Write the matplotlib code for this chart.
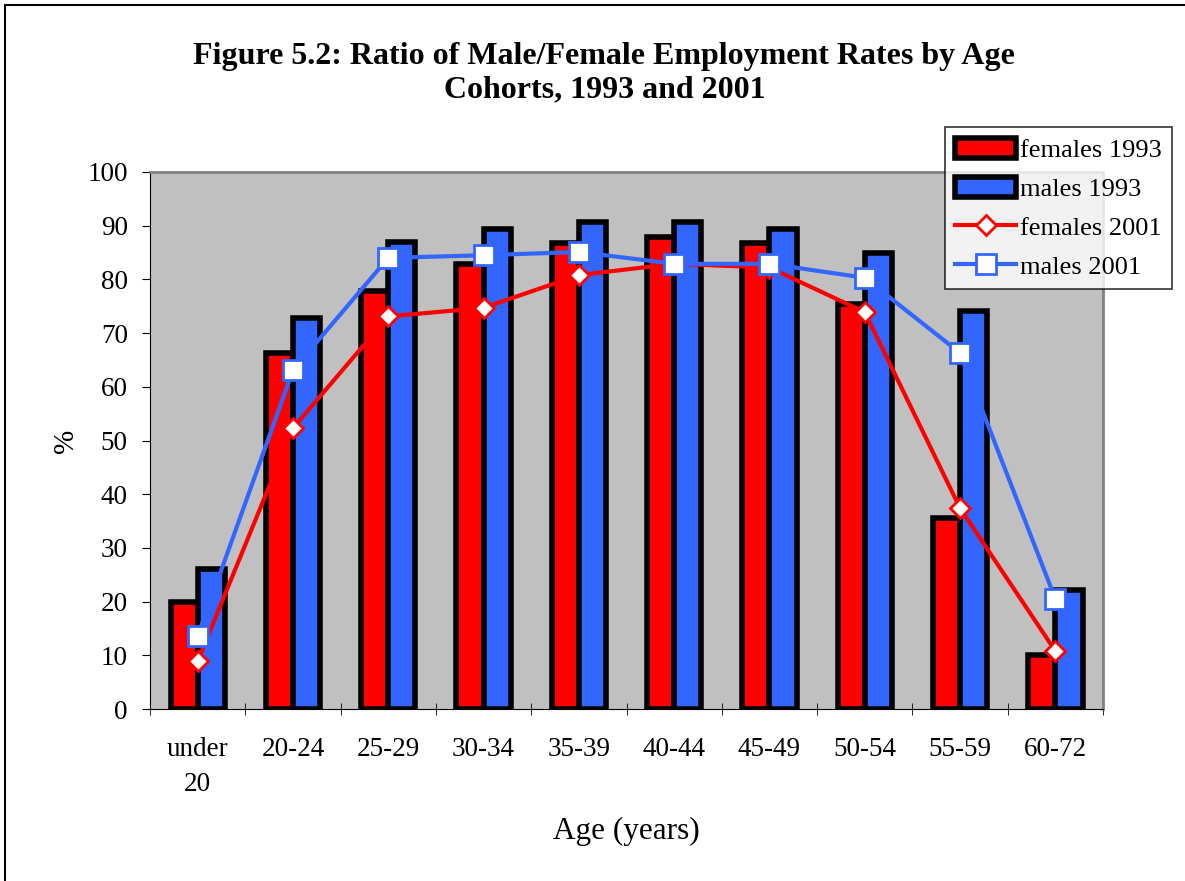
import numpy as np
import matplotlib
matplotlib.use('Agg')
import matplotlib.pyplot as plt
from matplotlib.patches import Rectangle

# age cohorts
ages = ['under\n20', '20-24', '25-29', '30-34', '35-39', '40-44', '45-49', '50-54', '55-59', '60-72']

# employment rates (%)
females_1993 = [20.0, 66.3, 77.8, 82.8, 86.7, 87.9, 86.7, 75.4, 35.6, 10.0]
males_1993 = [26.0, 72.8, 87.0, 89.4, 90.6, 90.6, 89.4, 84.9, 74.1, 22.2]
females_2001 = [8.9, 52.3, 73.1, 74.7, 80.8, 82.9, 82.2, 73.9, 37.4, 10.8]
males_2001 = [13.6, 63.1, 84.0, 84.5, 85.1, 82.9, 82.9, 80.3, 66.3, 20.5]

RED = '#FF0000'
BLUE = '#3366FF'

plt.rcParams['font.family'] = ['Liberation Serif', 'DejaVu Serif']

fig = plt.figure(figsize=(11.85, 8.81), dpi=100)
ax = fig.add_axes([0.1266, 0.1952, 0.8042, 0.6096])
ax.set_facecolor('#C0C0C0')

x = np.arange(len(ages))
w = 0.285
b1 = ax.bar(x - w / 2, females_1993, w, color=RED, edgecolor='black', linewidth=4,
            label='females 1993', zorder=2)
b2 = ax.bar(x + w / 2, males_1993, w, color=BLUE, edgecolor='black', linewidth=4,
            label='males 1993', zorder=2)
l1, = ax.plot(x, females_2001, color=RED, lw=3, marker='D', ms=10, mfc='white',
              mec=RED, mew=2, label='females 2001', zorder=3)
l2, = ax.plot(x, males_2001, color=BLUE, lw=3, marker='s', ms=15, mfc='white',
              mec=BLUE, mew=2, label='males 2001', zorder=4)

ax.set_xlim(-0.5, len(ages) - 0.5)
ax.set_ylim(0, 100)
ax.set_yticks(range(0, 101, 10))
ax.set_xticks(x)
ax.set_xticklabels(ages, fontsize=19.5, linespacing=1.55)
ax.set_xticks(np.arange(-0.5, len(ages), 1), minor=True)
ax.tick_params(axis='x', which='major', length=0, pad=20)
ax.tick_params(axis='x', which='minor', length=8, direction='inout', color='black')
ax.tick_params(axis='y', labelsize=19.5, length=6, direction='out', pad=10)

for s in ['top', 'right']:
    ax.spines[s].set_color('#808080')
    ax.spines[s].set_linewidth(2)
ax.spines['left'].set_color('black')
ax.spines['bottom'].set_color('black')

ax.set_ylabel('%', fontsize=21, labelpad=6)
ax.set_xlabel('Age (years)', fontsize=22.5, labelpad=14)

fig.suptitle('Figure 5.2: Ratio of Male/Female Employment Rates by Age\nCohorts, 1993 and 2001',
             fontsize=23, fontweight='bold', x=0.51, y=0.952, linespacing=1.2)

leg = ax.legend([b1, b2, l1, l2], ['females 1993', 'males 1993', 'females 2001', 'males 2001'],
                loc='upper left', bbox_to_anchor=(0.834, 1.083), fontsize=19,
                frameon=True, fancybox=False, edgecolor='black',
                handlelength=2.3, handleheight=0.8, handletextpad=0.15, borderpad=0.4,
                labelspacing=0.55, borderaxespad=0)
leg.get_frame().set_linewidth(1.2)
leg.set_zorder(10)

# outer border round the whole chart
fig.patches.append(Rectangle((0.004, -0.01), 1.2, 1.004, transform=fig.transFigure,
                             fill=False, edgecolor='black', linewidth=1.5))

fig.savefig('out.png', dpi=100)
